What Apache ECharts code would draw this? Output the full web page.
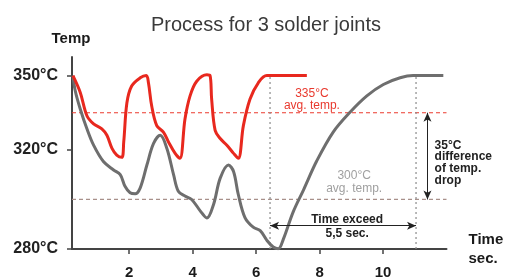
<!DOCTYPE html>
<html><head><meta charset="utf-8">
<script src="https://cdn.jsdelivr.net/npm/echarts@6/dist/echarts.min.js"></script>
<style>html,body{margin:0;padding:0;background:#fff}#c{width:507px;height:280px}</style>
</head><body><div id="c"></div>
<script>
// Red curve (one soldering iron) : time (s) and temperature (°C)
const redT = [0.23,0.46,0.67,0.88,1.14,1.30,1.46,1.61,1.77,1.83,1.93,2.08,2.35,2.54,2.61,2.71,2.87,3.08,3.24,3.45,3.6,3.76,3.92,4.13,4.45,4.55,4.6,4.71,4.87,5.08,5.29,5.44,5.6,5.81,6.07,6.34,7.6];
const redV = [350,343.2,333.8,330.5,328.5,325.9,320.6,317.9,317,323.2,339,345.8,349.1,350,347,337.8,329.8,327.2,323.2,318.6,316.6,332.5,341.8,347.7,350.3,350,340.5,327.9,324.6,321.9,318.6,316.6,329.8,340.5,347.1,350,350];
// Gray curve
const grayT = [0.23,0.3,0.46,0.67,0.88,1.19,1.51,1.72,1.87,2.03,2.19,2.35,2.56,2.77,2.98,3.19,3.4,3.55,3.76,3.97,4.24,4.45,4.66,4.87,5.13,5.29,5.44,5.65,5.91,6.13,6.34,6.54,6.7,6.86,7.17,7.5,7.91,8.43,8.96,9.49,10.01,10.54,10.95,11.9];
const grayV = [350,344,336.5,328.5,321.9,315.3,311.9,310,305.3,302.7,302.3,304.7,313.9,322.6,325.9,320.6,310,303.3,301.4,300,295.4,292.5,298,308.6,313.9,311.3,302,292.7,288.8,287.4,283.5,280.8,280.1,284,295,304,315.5,327.2,335.2,341.8,346.4,349.1,350,350];
// Axis ticks
const xTicks = [2,4,6,8,10];
const yTicks = [280,320,350];
// Reference levels and annotation anchors
const xRange = [0.2,12];
const redAvg = 335, grayAvg = 300;
const vLines = [6.44, 11.04];
const dropArrowT = 11.4;
const timeArrowV = 289.4;

const FONT = 'Liberation Sans, Arial, sans-serif';
const chart = echarts.init(document.getElementById('c'));
const zip = (a,b)=>a.map((t,i)=>[t,b[i]]);
const lbl = (x,y,text,style,pos)=>({coord:[x,y],symbol:'circle',symbolSize:1,itemStyle:{color:'rgba(0,0,0,0)'},
  label:Object.assign({show:true,position:pos||'inside',distance:0,formatter:text,fontFamily:FONT},style)});
const refLine = (data,color,dash)=>({type:'line',data,symbol:'none',silent:true,z:2,
  lineStyle:{color,width:1.2,type:dash}});

chart.setOption({
  animation:false,
  title:{text:'Process for 3 solder joints',left:261,textAlign:'center',top:10,
    textStyle:{fontSize:20,fontWeight:'normal',color:'#3a3a3a',fontFamily:FONT}},
  grid:{left:72,right:60.5,top:57,bottom:28},
  xAxis:{type:'value',min:xRange[0],max:xRange[1],
    name:'Time\nsec.',nameLocation:'end',nameGap:0,
    nameTextStyle:{fontSize:15,fontWeight:'bold',color:'#1a1a1a',align:'left',verticalAlign:'middle',lineHeight:19,padding:[6,0,0,22],fontFamily:FONT},
    axisLine:{lineStyle:{color:'#444',width:2}},
    axisTick:{show:true,length:5,customValues:xTicks,lineStyle:{color:'#444',width:1.5}},
    axisLabel:{customValues:xTicks,margin:16,fontSize:15,fontWeight:'bold',color:'#1a1a1a',fontFamily:FONT},
    splitLine:{show:false}},
  yAxis:{type:'value',min:280,max:357.5,
    name:'Temp',nameLocation:'end',nameGap:11,
    nameTextStyle:{fontSize:15,fontWeight:'bold',color:'#1a1a1a',align:'center',padding:[0,0,0,-2],fontFamily:FONT},
    axisLine:{show:true,lineStyle:{color:'#444',width:2}},
    axisTick:{show:true,length:5,customValues:yTicks,lineStyle:{color:'#444',width:1.5}},
    axisLabel:{customValues:yTicks,margin:14,fontSize:16,fontWeight:'bold',color:'#222',formatter:v=>v+'°C',fontFamily:FONT},
    splitLine:{show:false}},
  series:[
    refLine([[xRange[0],redAvg],[xRange[1],redAvg]],'#ec3b2f',[4,3]),
    refLine([[xRange[0],grayAvg],[xRange[1],grayAvg]],'#a8908a',[4,3]),
    refLine([[vLines[0],280],[vLines[0],350]],'#8a8a8a',[2,3]),
    refLine([[vLines[1],280],[vLines[1],350]],'#8a8a8a',[2,3]),
    {type:'line',data:zip(grayT,grayV),smooth:0.35,symbol:'none',z:3,
      lineStyle:{color:'#6e6e6e',width:3},
      markLine:{silent:true,symbol:['arrow','arrow'],symbolSize:[6,9],label:{show:false},animation:false,
        lineStyle:{color:'#222',type:'solid',width:1},
        data:[
          [{coord:[dropArrowT,redAvg]},{coord:[dropArrowT,grayAvg]}],
          [{coord:[vLines[0],timeArrowV]},{coord:[vLines[1],timeArrowV]}]
        ]},
      markPoint:{silent:true,animation:false,data:[
        lbl(7.76,340.3,'335°C\navg. temp.',{fontSize:12,color:'#e8392e',lineHeight:12.5,align:'center'}),
        lbl(9.09,307,'300°C\navg. temp.',{fontSize:12,color:'#a0a0a0',lineHeight:12.5,align:'center'}),
        lbl(11.61,314.7,'35°C\ndifference\nof temp.\ndrop',{fontSize:12,fontWeight:'bold',color:'#222',lineHeight:11.7,align:'left'},'right'),
        lbl(8.87,288.9,'Time exceed\n5,5 sec.',{fontSize:12,fontWeight:'bold',color:'#222',lineHeight:14,align:'center'})
      ]}},
    {type:'line',data:zip(redT,redV),smooth:0.35,symbol:'none',z:4,
      lineStyle:{color:'#e8281e',width:3}}
  ]
});
</script></body></html>
